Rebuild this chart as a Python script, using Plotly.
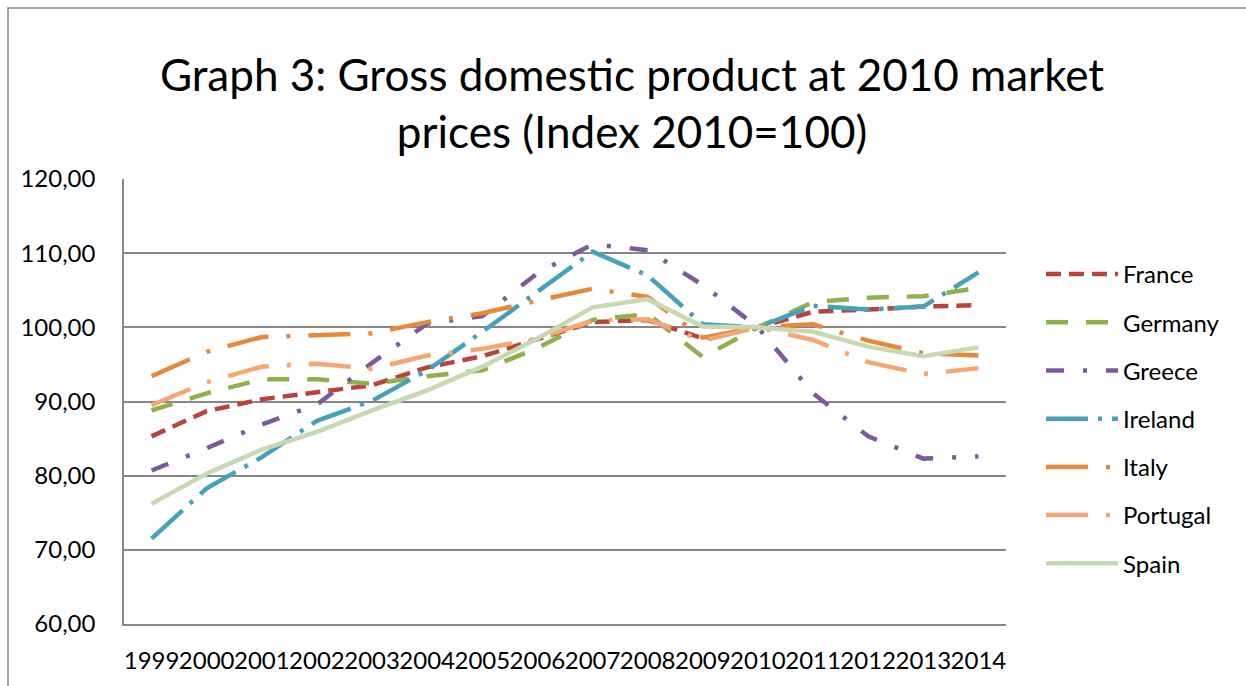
import plotly.graph_objects as go

years = [str(y) for y in range(1999, 2015)]
france = [85.3, 88.7, 90.3, 91.2, 92.2, 94.6, 96.1, 98.4, 100.7, 101.0, 98.5, 100.0, 102.1, 102.4, 102.8, 103.0]
germany = [88.8, 91.1, 93.0, 93.0, 92.4, 93.4, 94.2, 97.2, 101.0, 101.8, 96.0, 100.0, 103.4, 104.0, 104.2, 105.3]
greece = [80.7, 83.7, 86.9, 89.6, 95.2, 100.5, 101.5, 107.3, 111.2, 110.4, 105.7, 100.0, 91.1, 85.3, 82.3, 82.6]
ireland = [71.5, 78.3, 82.5, 87.4, 90.1, 94.2, 99.4, 104.8, 110.2, 107.0, 100.4, 100.0, 102.9, 102.4, 102.8, 107.4]
italy = [93.4, 96.7, 98.7, 98.9, 99.2, 100.7, 101.9, 103.6, 105.2, 104.1, 98.6, 100.0, 100.4, 98.2, 96.5, 96.2]
portugal = [89.5, 92.6, 94.7, 95.1, 94.4, 96.2, 97.1, 98.5, 100.9, 101.1, 98.2, 100.0, 98.3, 95.3, 93.7, 94.5]
spain = [76.2, 80.3, 83.5, 85.9, 88.8, 91.5, 94.7, 98.5, 102.7, 103.8, 100.1, 100.0, 99.4, 97.4, 96.1, 97.3]

y_ticks = [60, 70, 80, 90, 100, 110, 120]
y_tick_labels = ["60,00", "70,00", "80,00", "90,00", "100,00", "110,00", "120,00"]

series = [
    ("France", france, "#B9433F", "15px,8px"),
    ("Germany", germany, "#8FB04A", "22px,18px"),
    ("Greece", greece, "#7B5A9E", "18px,19px,4px,19px"),
    ("Ireland", ireland, "#46A1BB", "42px,10px,4px,10px"),
    ("Italy", italy, "#E8883A", "42px,18px,4px,18px"),
    ("Portugal", portugal, "#F7A571", "42px,18px,4px,18px"),
    ("Spain", spain, "#C6D9B2", "solid"),
]

FONT = "Lato"
W, H = 1246, 686
L, R, T, B = 124, 1006, 179, 624

fig = go.Figure()
for name, vals, color, dash in series:
    fig.add_trace(go.Scatter(
        x=years, y=vals, name=name, mode="lines",
        line=dict(color=color, width=4.5, dash=dash),
        legendgroup=name,
    ))

def px_x(p):
    return (p - L) / (R - L)

def px_y(p):
    return (B - p) / (B - T)

fig.update_layout(
    width=W, height=H,
    margin=dict(l=L, r=W - R, t=T, b=H - B, pad=0, autoexpand=False),
    paper_bgcolor="white", plot_bgcolor="white",
    font=dict(family=FONT, size=23, color="black"),
    title=dict(
        text="Graph 3: Gross domestic product at 2010 market<br>prices (Index 2010=100)",
        x=632 / W, xref="container", xanchor="center",
        y=1 - 91 / H, yref="container", yanchor="middle",
        font=dict(family=FONT, size=44, color="black"),
    ),
    xaxis=dict(
        type="category", categoryorder="array", categoryarray=years,
        range=[-0.5, len(years) - 0.5],
        tickvals=years, ticktext=years, tickangle=0, automargin=False,
        showgrid=False, showline=True, linecolor="#868686", linewidth=1.5,
        ticks="", tickfont=dict(family=FONT, size=24, color="black"),
        ticklabelstandoff=14, zeroline=False,
    ),
    yaxis=dict(
        range=[60, 120], tickvals=y_ticks, ticktext=y_tick_labels, automargin=False,
        showgrid=True, gridcolor="#868686", gridwidth=1.5,
        showline=True, linecolor="#868686", linewidth=1.5,
        ticks="", tickfont=dict(family=FONT, size=24, color="black"),
        ticklabelstandoff=22, zeroline=False,
    ),
    legend=dict(
        x=px_x(1041), xanchor="left", y=px_y(252), yanchor="top",
        font=dict(family=FONT, size=24, color="black"),
        itemwidth=72, tracegroupgap=14, bgcolor="rgba(0,0,0,0)",
        traceorder="grouped",
    ),
    showlegend=True,
    shapes=[dict(
        type="rect", xref="paper", yref="paper",
        x0=px_x(8), x1=px_x(1300), y0=px_y(700), y1=px_y(8),
        line=dict(color="#868686", width=1.5), fillcolor="rgba(0,0,0,0)",
        layer="below",
    )],
)

fig.write_html(
    "out.html",
    config={"displayModeBar": False},
    post_script="document.body.style.margin='0';document.body.style.overflow='hidden';",
)
